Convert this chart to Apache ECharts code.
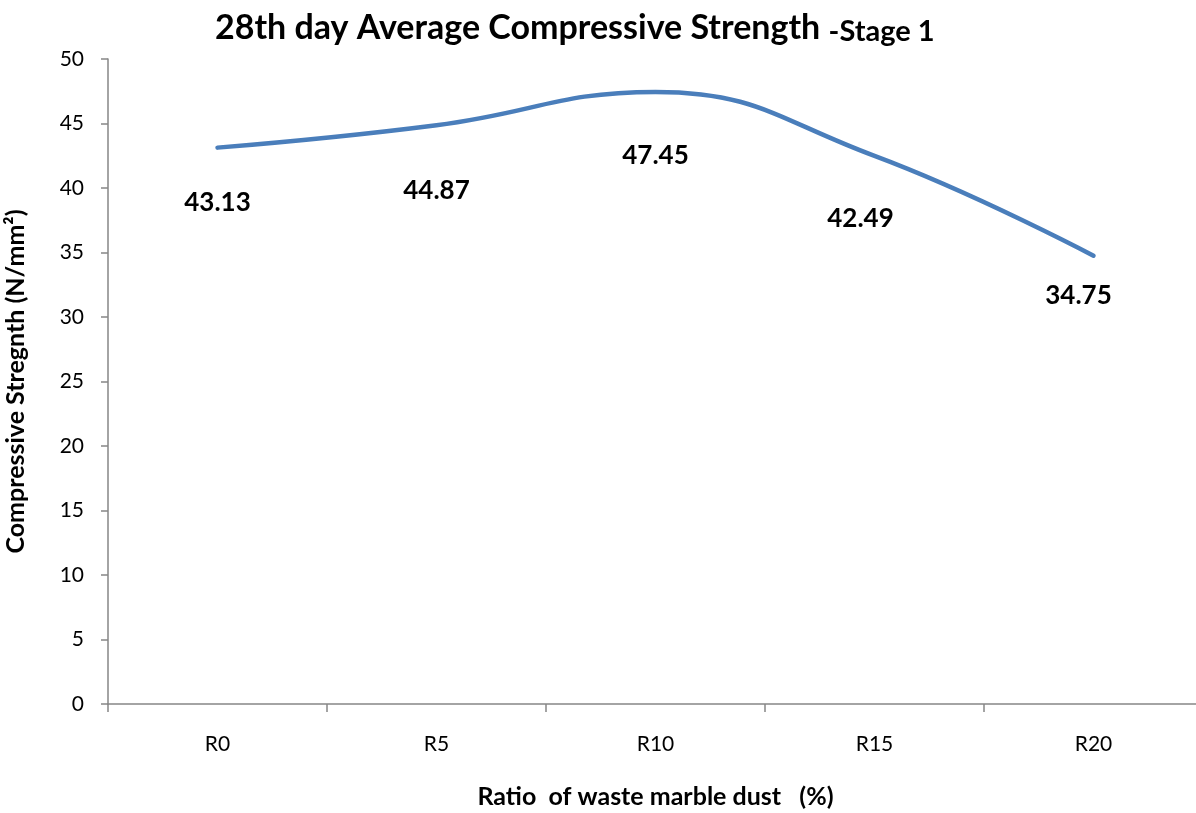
<!DOCTYPE html>
<html><head><meta charset="utf-8">
<script src="https://cdn.jsdelivr.net/npm/echarts@6/dist/echarts.min.js"></script>
<style>html,body{margin:0;padding:0;background:#fff}#c{width:1196px;height:813px}</style>
</head><body><div id="c"></div>
<script>
const categories = ['R0','R5','R10','R15','R20'];
const strength = [43.13, 44.87, 47.45, 42.49, 34.75];
const yTicks = [0,5,10,15,20,25,30,35,40,45,50];

const FONT = 'Lato, "Open Sans", sans-serif';
// label nudges (style only), to mimic the original label placement
const labelNudge = [[0,0],[0,10],[0,9],[-14,8],[-15,-15]];

const chart = echarts.init(document.getElementById('c'));
chart.setOption({
  backgroundColor:'#fff',
  animation:false,
  title:{
    text:'{a|28th day Average Compressive Strength }{b|-Stage 1}',
    left:210, top:6,
    textStyle:{rich:{
      a:{fontFamily:FONT,fontSize:34,fontWeight:'bold',color:'#000'},
      b:{fontFamily:FONT,fontSize:29,fontWeight:'bold',color:'#000',padding:[6,0,0,0]}
    }}
  },
  grid:{left:108,top:59,bottom:109,right:-7,containLabel:false,outerBoundsMode:'none'},
  xAxis:{
    type:'category', data:categories, boundaryGap:true,
    name:'Ratio  of waste marble dust   (%)', nameLocation:'middle', nameGap:80,
    nameTextStyle:{fontFamily:FONT,fontSize:25,fontWeight:'bold',color:'#000'},
    axisLine:{lineStyle:{color:'#868686',width:1.5}},
    axisTick:{show:true,length:8,lineStyle:{color:'#868686',width:1.5}},
    axisLabel:{fontFamily:FONT,fontSize:21,color:'#000',margin:30},
    splitLine:{show:false}
  },
  yAxis:{
    type:'value', min:yTicks[0], max:yTicks[yTicks.length-1], interval:5,
    name:'Compressive Stregnth (N/mm²)', nameLocation:'middle', nameGap:80,
    nameTextStyle:{fontFamily:FONT,fontSize:25,fontWeight:'bold',color:'#000'},
    axisLine:{show:true,lineStyle:{color:'#868686',width:1.5}},
    axisTick:{show:true,length:7,lineStyle:{color:'#868686',width:1.5}},
    axisLabel:{fontFamily:FONT,fontSize:21,color:'#000',margin:24},
    splitLine:{show:false}
  },
  series:[{
    type:'line', smooth:0.45,
    data:strength.map((v,i)=>({value:v,label:{offset:labelNudge[i]}})),
    symbol:'circle', symbolSize:0.1, showSymbol:true,
    lineStyle:{color:'#4a7ebb',width:4.5,cap:'round'},
    itemStyle:{color:'#4a7ebb'},
    label:{show:true,position:'bottom',distance:42,
      fontFamily:FONT,fontSize:26,fontWeight:'bold',color:'#000',
      formatter:p=>p.value.toFixed(2)}
  }]
});
</script></body></html>
